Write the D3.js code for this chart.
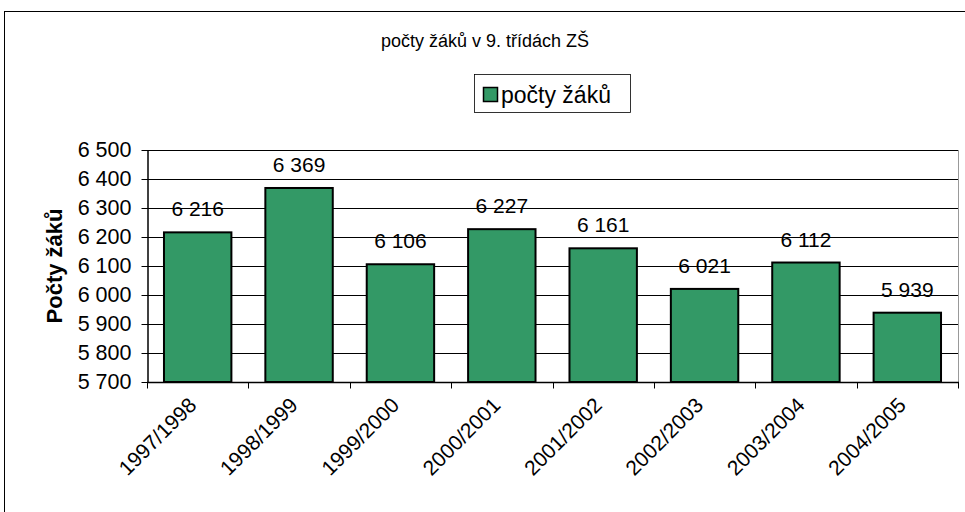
<!DOCTYPE html>
<html><head><meta charset="utf-8">
<script src="https://cdn.jsdelivr.net/npm/d3@7"></script>
<style>body{margin:0;background:#fff}svg{display:block;font-family:"Liberation Sans",Arial,sans-serif}</style>
</head><body><svg id="c" width="965" height="512"></svg>
<script>
const categories = ["1997/1998","1998/1999","1999/2000","2000/2001","2001/2002","2002/2003","2003/2004","2004/2005"];
const values = [6216, 6369, 6106, 6227, 6161, 6021, 6112, 5939];
const yTicks = [5700,5800,5900,6000,6100,6200,6300,6400,6500];
const title = "počty žáků v 9. třídách ZŠ";
const seriesName = "počty žáků";
const yTitle = "Počty žáků";

const svg = d3.select("#c");
const fmt = v => d3.format(",")(v).replace(/,/g, " ");
const m = {l:147, r:958, t:150, b:382};
const x = d3.scaleBand().domain(categories).range([m.l, m.r]).paddingInner(0.335).paddingOuter(0.1675);
const y = d3.scaleLinear().domain([5700, 6500]).range([m.b, m.t]);

// outer frame
svg.append("rect").attr("x",4.5).attr("y",11.5).attr("width",1000).attr("height",600).attr("fill","#fff").attr("stroke","#000");

// grid
svg.append("g").selectAll("line").data(yTicks.slice(1)).join("line")
  .attr("x1",m.l).attr("x2",m.r).attr("y1",d=>Math.round(y(d))+0.5).attr("y2",d=>Math.round(y(d))+0.5)
  .attr("stroke","#000").attr("stroke-width",1);
// right plot border
svg.append("line").attr("x1",m.r+0.5).attr("x2",m.r+0.5).attr("y1",m.t).attr("y2",m.b).attr("stroke","#999");

// bars
svg.append("g").selectAll("rect").data(values).join("rect")
  .attr("x",(d,i)=>x(categories[i])).attr("width",x.bandwidth())
  .attr("y",d=>y(d)).attr("height",d=>y(5700)-y(d))
  .attr("fill","#339966").attr("stroke","#000").attr("stroke-width",2);

// data labels
svg.append("g").selectAll("text").data(values).join("text")
  .attr("x",(d,i)=>x(categories[i])+x.bandwidth()/2).attr("y",d=>y(d)-16)
  .attr("text-anchor","middle").attr("font-size",21).text(d=>fmt(d));

// y axis
const ya = svg.append("g").attr("transform",`translate(${m.l+0.5},0)`)
  .call(d3.axisLeft(y).tickValues(yTicks).tickSize(6).tickSizeOuter(0).tickFormat(fmt).tickPadding(10));
ya.select(".domain").attr("stroke","#000").attr("stroke-width",1.5);
ya.selectAll("text").attr("font-size",21.5).attr("fill","#000").attr("font-family","Liberation Sans, Arial, sans-serif");

// x axis
const xa = svg.append("g").attr("transform",`translate(0,${m.b+0.5})`);
xa.append("line").attr("x1",m.l).attr("x2",m.r+1).attr("stroke","#000").attr("stroke-width",1.5);
xa.selectAll("line.t").data(d3.range(categories.length+1)).join("line").attr("class","t")
  .attr("x1",i=>Math.round(m.l+i*(m.r-m.l)/categories.length)+0.5).attr("x2",i=>Math.round(m.l+i*(m.r-m.l)/categories.length)+0.5)
  .attr("y1",0).attr("y2",6).attr("stroke","#000");
xa.selectAll("text").data(categories).join("text")
  .attr("transform",d=>`translate(${x(d)+x.bandwidth()/2},${24}) rotate(-45)`)
  .attr("text-anchor","end").attr("font-size",21).text(d=>d);

// y title
svg.append("text").attr("transform",`translate(62,${(m.t+m.b)/2}) rotate(-90)`)
  .attr("text-anchor","middle").attr("font-size",22).attr("font-weight","bold").text(yTitle);

// title
svg.append("text").attr("x",485).attr("y",47).attr("text-anchor","middle").attr("font-size",18).text(title);

// legend
svg.append("rect").attr("x",474.5).attr("y",74.5).attr("width",156).attr("height",38).attr("fill","#fff").attr("stroke","#000").attr("stroke-width",0.8);
svg.append("rect").attr("x",483.5).attr("y",87.5).attr("width",14).attr("height",14).attr("fill","#339966").attr("stroke","#000").attr("stroke-width",1.5);
svg.append("text").attr("x",501).attr("y",103).attr("font-size",23).text(seriesName);
</script></body></html>
